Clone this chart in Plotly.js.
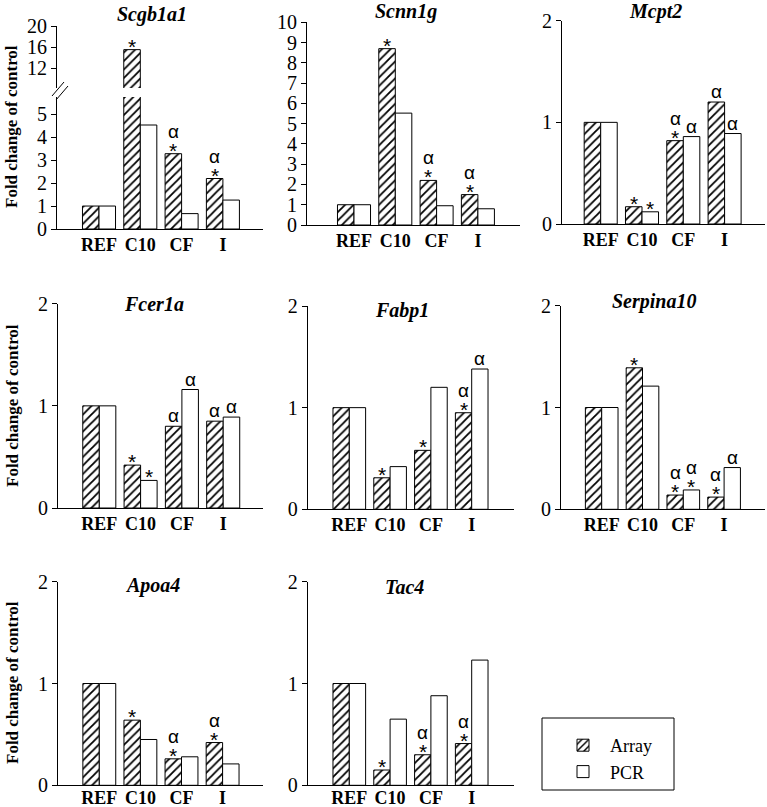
<!DOCTYPE html>
<html>
<head>
<meta charset="utf-8">
<script src="https://cdn.plot.ly/plotly-3.0.1.min.js"></script>
<style>
  html, body { margin: 0; padding: 0; background: #fff; }
</style>
</head>
<body>
<div id="PLOT"></div>
<script>
// groups on the x axis
const categories = ['REF', 'C10', 'CF', 'I'];
const genes = ['Scgb1a1', 'Scnn1g', 'Mcpt2', 'Fcer1a', 'Fabp1', 'Serpina10', 'Apoa4', 'Tac4'];

// fold change, microarray
const arrayScgb1a1 = [1, 15.5, 3.28, 2.2];
const arrayScnn1g = [1, 8.7, 2.2, 1.5];
const arrayMcpt2 = [1, 0.17, 0.82, 1.2];
const arrayFcer1a = [1, 0.42, 0.8, 0.85];
const arrayFabp1 = [1, 0.31, 0.58, 0.95];
const arraySerpina10 = [1, 1.39, 0.14, 0.12];
const arrayApoa4 = [1, 0.64, 0.26, 0.42];
const arrayTac4 = [1, 0.15, 0.3, 0.41];

// fold change, qPCR
const pcrScgb1a1 = [1, 4.53, 0.67, 1.26];
const pcrScnn1g = [1, 5.52, 0.95, 0.8];
const pcrMcpt2 = [1, 0.12, 0.86, 0.89];
const pcrFcer1a = [1, 0.27, 1.16, 0.89];
const pcrFabp1 = [1, 0.42, 1.2, 1.38];
const pcrSerpina10 = [1, 1.21, 0.19, 0.41];
const pcrApoa4 = [1, 0.45, 0.28, 0.21];
const pcrTac4 = [1, 0.65, 0.88, 1.23];

// significance marks (* vs REF, α vs C10)
const sigArray = [
  ['', '*', 'α*', 'α*'],
  ['', '*', 'α*', 'α*'],
  ['', '*', 'α*', 'α'],
  ['', '*', 'α', 'α'],
  ['', '*', '*', 'α*'],
  ['', '*', 'α*', 'α*'],
  ['', '*', 'α*', 'α*'],
  ['', '*', 'α*', 'α*']
];
const sigPcr = [
  ['', '', '', ''],
  ['', '', '', ''],
  ['', '*', 'α', 'α'],
  ['', '*', 'α', 'α'],
  ['', '', '', 'α'],
  ['', '', 'α*', 'α'],
  ['', '', '', ''],
  ['', '', '', '']
];

const arrayVals = [arrayScgb1a1, arrayScnn1g, arrayMcpt2, arrayFcer1a, arrayFabp1, arraySerpina10, arrayApoa4, arrayTac4];
const pcrVals = [pcrScgb1a1, pcrScnn1g, pcrMcpt2, pcrFcer1a, pcrFabp1, pcrSerpina10, pcrApoa4, pcrTac4];

const W = 767, H = 807;
const serif = "'Liberation Serif', 'Times New Roman', Times, serif";
const sans = "'Liberation Sans', Arial, sans-serif";

// pixel boxes of each panel: axis start/end, zero line, top, REF centre, group spacing, y max
const boxes = [
  {L: 57, R: 263, base: 229, top: 97, c0: 99, s: 41.3, ymax: 5.75},
  {L: 307, R: 520, base: 225, top: 22.3, c0: 354, s: 41.3, ymax: 10},
  {L: 562, R: 765, base: 224, top: 20.7, c0: 600.7, s: 41.3, ymax: 2},
  {L: 58, R: 263, base: 508, top: 303.7, c0: 99.3, s: 41.3, ymax: 2},
  {L: 307.7, R: 514, base: 509.3, top: 306, c0: 349.3, s: 40.8, ymax: 2},
  {L: 561, R: 765, base: 509.3, top: 305.7, c0: 601.7, s: 40.8, ymax: 2},
  {L: 58, R: 263, base: 785.3, top: 581.7, c0: 99.3, s: 41.1, ymax: 2},
  {L: 307.7, R: 514, base: 785.3, top: 581.7, c0: 349.3, s: 40.8, ymax: 2}
];
const titlePos = [[115, 14], [373, 11], [627, 11], [122, 304], [373, 310], [610, 302], [123, 585], [383, 587]];

const px = p => p / W;
const py = p => 1 - p / H;

const hatch = {shape: '/', fgcolor: '#000', bgcolor: '#fff', size: 6, solidity: 0.3};
const traces = [];
const layout = {
  width: W, height: H,
  margin: {l: 0, r: 0, t: 0, b: 0},
  paper_bgcolor: '#fff', plot_bgcolor: 'rgba(0,0,0,0)',
  font: {family: serif, color: '#000', size: 17},
  barmode: 'group', bargap: 0.2, bargroupgap: 0,
  showlegend: true,
  legend: {
    x: px(556), y: py(727), xanchor: 'left', yanchor: 'top',
    bgcolor: 'rgba(0,0,0,0)', borderwidth: 0,
    font: {family: serif, size: 18}, itemwidth: 44, tracegroupgap: 0
  },
  annotations: [],
  shapes: []
};

function yAxisBase(extra) {
  return Object.assign({
    showline: true, linecolor: '#000', linewidth: 1,
    ticks: 'outside', ticklen: 5, tickcolor: '#000',
    showgrid: false, zeroline: false, fixedrange: true,
    tickfont: {family: serif, size: 20}
  }, extra);
}

genes.forEach((g, i) => {
  const b = boxes[i];
  const n = i + 1;
  const xs = n === 1 ? '' : String(n);
  const xk = 'xaxis' + xs, yk = 'yaxis' + xs;
  layout[xk] = {
    type: 'category', domain: [px(b.L), px(b.R)], anchor: 'y' + xs,
    range: [(b.L - b.c0) / b.s, (b.R - b.c0) / b.s],
    showline: true, linecolor: '#000', linewidth: 1, ticks: '',
    showgrid: false, zeroline: false, fixedrange: true,
    ticklabelstandoff: i >= 6 ? -4 : -1,
    tickfont: {family: serif, size: 18, weight: 'bold'}
  };
  layout[yk] = yAxisBase({
    domain: [py(b.base), py(b.top)], anchor: 'x' + xs,
    range: [0, b.ymax], dtick: 1
  });
  traces.push({
    type: 'bar', name: 'Array', x: categories, y: arrayVals[i],
    xaxis: 'x' + xs, yaxis: 'y' + xs, showlegend: i === 0,
    marker: {color: '#fff', line: {color: '#000', width: 1}, pattern: hatch},
    hoverinfo: 'x+y'
  });
  traces.push({
    type: 'bar', name: 'PCR', x: categories, y: pcrVals[i],
    xaxis: 'x' + xs, yaxis: 'y' + xs, showlegend: i === 0,
    marker: {color: '#fff', line: {color: '#000', width: 1}},
    hoverinfo: 'x+y'
  });

  // gene title
  layout.annotations.push({
    xref: 'paper', yref: 'paper', x: px(titlePos[i][0]), y: py(titlePos[i][1]),
    xanchor: 'left', yanchor: 'middle', showarrow: false,
    text: '<b><i>' + g + '</i></b>', font: {family: serif, size: 20}
  });

  // significance marks
  [[sigArray[i], arrayVals[i], -0.2], [sigPcr[i], pcrVals[i], 0.2]].forEach(([sig, vals, off]) => {
    sig.forEach((m, k) => {
      if (!m) return;
      let ya = 'y' + xs;
      if (i === 0 && vals[k] > b.ymax) ya = 'y9';
      const hasStar = m.indexOf('*') >= 0;
      if (hasStar) {
        layout.annotations.push({
          xref: 'x' + xs, yref: ya, x: k + off, y: vals[k], yanchor: 'bottom',
          yshift: -10, showarrow: false, text: '*', font: {family: sans, size: 21}
        });
      }
      if (m.indexOf('α') >= 0) {
        layout.annotations.push({
          xref: 'x' + xs, yref: ya, x: k + off, y: vals[k], yanchor: 'bottom',
          yshift: hasStar ? 10 : -2, showarrow: false, text: 'α', font: {family: sans, size: 19}
        });
      }
    });
  });
});

// upper segment of the broken Scgb1a1 axis
layout.yaxis9 = yAxisBase({
  domain: [py(88), py(26)], anchor: 'x', range: [8.2, 20], tickvals: [12, 16, 20]
});
traces.push({
  type: 'bar', name: 'Array', x: categories, y: arrayVals[0], xaxis: 'x', yaxis: 'y9',
  showlegend: false, marker: {color: '#fff', line: {color: '#000', width: 1}, pattern: hatch},
  hoverinfo: 'x+y'
});
traces.push({
  type: 'bar', name: 'PCR', x: categories, y: pcrVals[0], xaxis: 'x', yaxis: 'y9',
  showlegend: false, marker: {color: '#fff', line: {color: '#000', width: 1}},
  hoverinfo: 'x+y'
});

// break marks
layout.shapes.push(
  {type: 'line', xref: 'paper', yref: 'paper', x0: px(52), y0: py(96), x1: px(64), y1: py(82), line: {color: '#000', width: 1}},
  {type: 'line', xref: 'paper', yref: 'paper', x0: px(56), y0: py(100), x1: px(68), y1: py(86), line: {color: '#000', width: 1}}
);

// y axis titles on the left column
[127, 406, 683].forEach(yc => {
  layout.annotations.push({
    xref: 'paper', yref: 'paper', x: px(12), y: py(yc), xanchor: 'center', yanchor: 'middle',
    textangle: -90, showarrow: false, text: '<b>Fold change of control</b>',
    font: {family: serif, size: 17}
  });
});

// legend frame
layout.shapes.push({
  type: 'rect', xref: 'paper', yref: 'paper', x0: px(542), x1: px(674), y0: py(790), y1: py(718),
  line: {color: '#000', width: 1}
});

Plotly.newPlot('PLOT', traces, layout, {staticPlot: true});
</script>
</body>
</html>
